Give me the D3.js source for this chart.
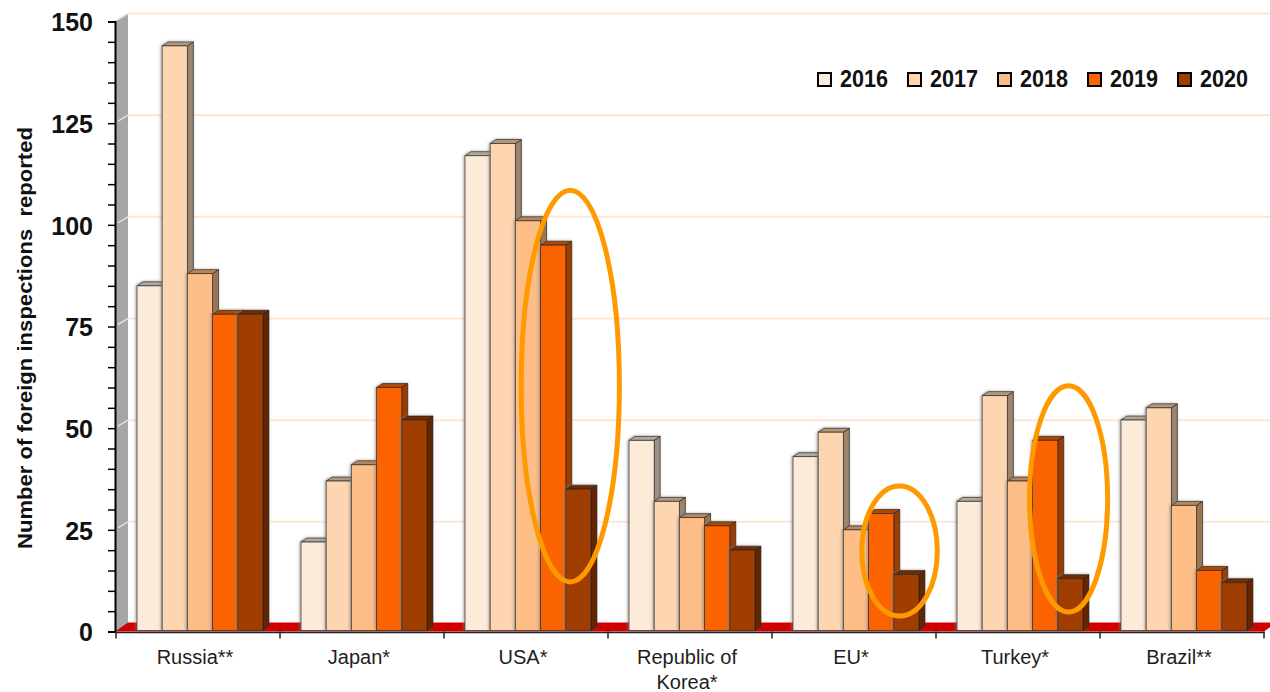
<!DOCTYPE html>
<html>
<head>
<meta charset="utf-8">
<script src="https://cdn.jsdelivr.net/npm/d3@7/dist/d3.min.js"></script>
<style>
  html, body { margin: 0; padding: 0; background: #fff; }
  svg { display: block; font-family: "Liberation Sans", Arial, sans-serif; }
</style>
</head>
<body>
<svg id="chart" width="1270" height="692"></svg>
<script>
// Foreign inspections reported, by partner and year
const categories = ["Russia**", "Japan*", "USA*", "Republic of\nKorea*", "EU*", "Turkey*", "Brazil**"];
const years = ["2016", "2017", "2018", "2019", "2020"];
const v2016 = [85, 22, 117, 47, 43, 32, 52];
const v2017 = [144, 37, 120, 32, 49, 58, 55];
const v2018 = [88, 41, 101, 28, 25, 37, 31];
const v2019 = [78, 60, 95, 26, 29, 47, 15];
const v2020 = [78, 52, 35, 20, 14, 13, 12];
const seriesValues = [v2016, v2017, v2018, v2019, v2020];
const yTicks = [0, 25, 50, 75, 100, 125, 150];
const colors = ["#fdebd9", "#fdd5b0", "#fdbd86", "#fa6400", "#a03e00"];

// highlighted drops (centre given in bar slots within the group, extent in data units)
const highlights = [
  { category: "USA*", slot: 4.1, halfSlots: 1.95, top: 108.5, bottom: 12.2 },
  { category: "EU*", slot: 4.15, halfSlots: 1.5, top: 35.8, bottom: 3.8 },
  { category: "Turkey*", slot: 4.35, halfSlots: 1.55, top: 60.4, bottom: 4.8 }
];

const svg = d3.select("#chart");
const W = 1270;
const depth = { x: 13, y: -8 };      // back wall offset
const barDepth = { x: 6, y: -4 };    // column depth

const x = d3.scaleBand().domain(categories).range([116, 1264]);
const xi = d3.scaleBand().domain(years)
  .range([x.bandwidth() * 0.128, x.bandwidth() * 0.896]);
const y = d3.scaleLinear().domain([0, 150]).range([631.5, 21.5]);
const axisX = 115;
const baseY = y(0);

// shadow filter for the columns
const defs = svg.append("defs");
const f = defs.append("filter").attr("id", "shadow")
  .attr("x", "-30%").attr("y", "-10%").attr("width", "160%").attr("height", "120%");
f.append("feGaussianBlur").attr("in", "SourceAlpha").attr("stdDeviation", 1.6).attr("result", "b");
f.append("feOffset").attr("in", "b").attr("dx", -1).attr("dy", 0).attr("result", "o");
f.append("feFlood").attr("flood-color", "#7a7a7a").attr("flood-opacity", 0.75);
f.append("feComposite").attr("in2", "o").attr("operator", "in").attr("result", "s");
const fm = f.append("feMerge");
fm.append("feMergeNode").attr("in", "s");
fm.append("feMergeNode").attr("in", "SourceGraphic");

// back wall gridlines
svg.append("g").selectAll("line").data(yTicks.filter(d => d > 0)).join("line")
  .attr("x1", axisX + depth.x).attr("x2", W)
  .attr("y1", d => y(d) + depth.y).attr("y2", d => y(d) + depth.y)
  .attr("stroke", "#fde6d4").attr("stroke-width", 2);

// side wall
svg.append("path")
  .attr("d", d3.line()([
    [axisX, y(150)], [axisX + depth.x, y(150) + depth.y],
    [axisX + depth.x, baseY + depth.y], [axisX, baseY]
  ]) + "Z")
  .attr("fill", "#a6a6a6");
svg.append("g").selectAll("line").data(yTicks.filter(d => d > 0)).join("line")
  .attr("x1", axisX + 3).attr("x2", axisX + depth.x)
  .attr("y1", d => y(d) - 2).attr("y2", d => y(d) + depth.y)
  .attr("stroke", "#f3dccb").attr("stroke-width", 1.5);

// floor
svg.append("path")
  .attr("d", d3.line()([
    [axisX, baseY], [axisX + depth.x, baseY + depth.y - 1],
    [1264 + depth.x, baseY + depth.y - 1], [1264, baseY]
  ]) + "Z")
  .attr("fill", "#d00000");

// columns
const barsG = svg.append("g");
categories.forEach((cat, ci) => {
  years.forEach((yr, si) => {
    const v = seriesValues[si][ci];
    const x0 = x(cat) + xi(yr);
    const w = xi.bandwidth();
    const top = y(v);
    const bottom = baseY - 1;
    const c = d3.color(colors[si]);
    const g = barsG.append("g").attr("filter", "url(#shadow)");
    // side face
    g.append("path")
      .attr("d", d3.line()([
        [x0 + w, top], [x0 + w + barDepth.x, top + barDepth.y],
        [x0 + w + barDepth.x, bottom + barDepth.y], [x0 + w, bottom]
      ]) + "Z")
      .attr("fill", c.darker(1.35).formatHex())
      .attr("stroke", "#1a1a1a").attr("stroke-width", 0.8).attr("stroke-opacity", 0.8);
    // top face
    g.append("path")
      .attr("d", d3.line()([
        [x0, top], [x0 + barDepth.x, top + barDepth.y],
        [x0 + w + barDepth.x, top + barDepth.y], [x0 + w, top]
      ]) + "Z")
      .attr("fill", c.darker(0.95).formatHex())
      .attr("stroke", "#1a1a1a").attr("stroke-width", 0.8).attr("stroke-opacity", 0.8);
    // front face
    g.append("rect")
      .attr("x", x0).attr("y", top).attr("width", w).attr("height", bottom - top)
      .attr("fill", colors[si])
      .attr("stroke", "#2a2a2a").attr("stroke-width", 0.9).attr("stroke-opacity", 0.75);
  });
});

// y axis
const yAxis = d3.axisLeft(y).tickValues(d3.range(0, 151, 5))
  .tickSize(7).tickPadding(15)
  .tickFormat(d => (d % 25 === 0 ? d : ""));
const yg = svg.append("g").attr("transform", `translate(${axisX},0)`).call(yAxis);
yg.select(".domain").attr("stroke", "#000").attr("stroke-width", 2);
yg.selectAll(".tick line").attr("stroke", "#000").attr("stroke-width", 1.5);
yg.selectAll(".tick text")
  .attr("font-size", 25).attr("font-weight", "bold").attr("fill", "#111")
  .attr("font-family", "'Liberation Sans', Arial, sans-serif")
  .attr("dy", "0.37em");

// x axis
const xAxis = d3.axisBottom(x).tickSize(0).tickFormat("");
const xg = svg.append("g").attr("transform", `translate(0,${baseY + 0.5})`).call(xAxis);
xg.select(".domain").attr("stroke", "#222").attr("stroke-width", 1.5);
svg.append("g").selectAll("line")
  .data(categories.map(c => x(c)).concat([x.range()[1]]))
  .join("line")
  .attr("x1", d => d).attr("x2", d => d)
  .attr("y1", baseY).attr("y2", baseY + 7)
  .attr("stroke", "#222").attr("stroke-width", 1.5);

// category labels
const labG = svg.append("g");
categories.forEach(cat => {
  const t = labG.append("text")
    .attr("x", x(cat) + x.bandwidth() / 2 - 3)
    .attr("y", 664)
    .attr("text-anchor", "middle")
    .attr("font-size", 20).attr("fill", "#1e1e1e");
  cat.split("\n").forEach((line, i) => {
    t.append("tspan").attr("x", x(cat) + x.bandwidth() / 2 - 3)
      .attr("dy", i === 0 ? 0 : 25).text(line);
  });
});

// y axis title
svg.append("text")
  .attr("transform", "translate(32,338) rotate(-90)")
  .attr("text-anchor", "middle")
  .attr("font-size", 20).attr("font-weight", "bold").attr("fill", "#111")
  .attr("xml:space", "preserve")
  .attr("textLength", 422).attr("lengthAdjust", "spacingAndGlyphs")
  .text("Number of foreign inspections  reported");

// highlight ellipses
svg.append("g").selectAll("ellipse").data(highlights).join("ellipse")
  .attr("cx", d => x(d.category) + xi.range()[0] + d.slot * xi.bandwidth() + 2)
  .attr("cy", d => (y(d.top) + y(d.bottom)) / 2)
  .attr("rx", d => d.halfSlots * xi.bandwidth())
  .attr("ry", d => (y(d.bottom) - y(d.top)) / 2)
  .attr("fill", "none").attr("stroke", "#ff9900").attr("stroke-width", 5);

// legend
const legX = d3.scalePoint().domain(years).range([817, 1177]);
const leg = svg.append("g").selectAll("g").data(years).join("g")
  .attr("transform", d => `translate(${legX(d)},72)`);
leg.append("rect").attr("x", 1).attr("y", 1).attr("width", 13).attr("height", 13)
  .attr("fill", (d, i) => colors[i]).attr("stroke", "#000").attr("stroke-width", 2);
leg.append("text").attr("x", 23).attr("y", 15)
  .attr("font-size", 23).attr("font-weight", "bold").attr("fill", "#111")
  .attr("textLength", 48).attr("lengthAdjust", "spacingAndGlyphs")
  .text(d => d);
</script>
</body>
</html>
